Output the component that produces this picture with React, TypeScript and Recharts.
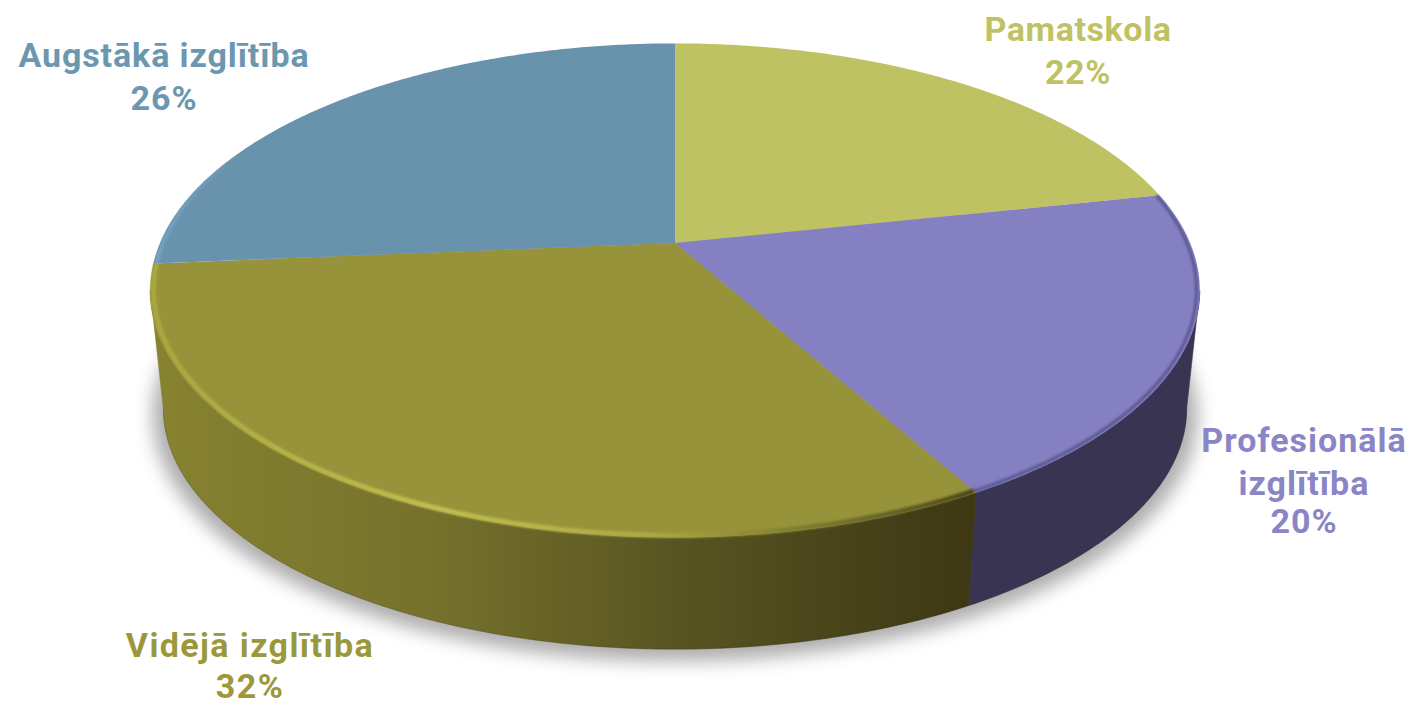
import { PieChart, Pie } from "recharts";

const categories = ["Pamatskola", "Profesionālā\nizglītība", "Vidējā izglītība", "Augstākā izglītība"];
const shares = [21.7, 20.3, 31.8, 26.4];

const topColors = ["#bfc263", "#8480c1", "#97933a", "#6993ad"];
const wallColors = ["none", "#383452", "url(#olive-wall)", "none"];
const rimColors = ["none", "#5a5690", "url(#olive-rim)", "url(#blue-rim)"];
const textColors = ["#bfc263", "#8985c6", "#9b983c", "#6c97b0"];

// centre x, line baselines and tracking of every label, in slice order
const labelSpots = [
  { x: 1078, baselines: [41, 84], spacing: 0.6 },
  { x: 1304, baselines: [452, 495, 533], spacing: 1 },
  { x: 250, baselines: [657, 698], spacing: 1.4 },
  { x: 164, baselines: [67, 110], spacing: 0.9 },
];

const table = categories.map((name, i) => ({ name, value: shares[i] }));
const wholeDisc = [{ name: "shadow", value: 100 }];

// The disc is tilted: far side shrinks, so the apex is not at the ellipse centre.
const TILT = 0.192;
const SQUASH = 0.462;
const WALL_DROP = 119;
const WALL_SCALE = 0.975;
const RAD = Math.PI / 180;

type Pt = [number, number];

function project(p: any, deg: number, r = 1, low = false): Pt {
  const u = Math.cos(deg * RAD) * r;
  const v = Math.sin(deg * RAD) * r;
  const s = low ? WALL_SCALE : 1;
  const w = 1 + TILT * v;
  const x = p.cx + (p.outerRadius * s * u) / w;
  const y = p.cy + (low ? WALL_DROP : 0) - (p.outerRadius * SQUASH * s * v) / w;
  return [x, y];
}

function arc(p: any, from: number, to: number, r = 1, low = false): Pt[] {
  const n = Math.max(2, Math.ceil(Math.abs(to - from) * 2));
  const out: Pt[] = [];
  for (let i = 0; i <= n; i++) out.push(project(p, from + ((to - from) * i) / n, r, low));
  return out;
}

const toPath = (pts: Pt[], close = true) =>
  "M" + pts.map(([x, y]) => `${x.toFixed(2)} ${y.toFixed(2)}`).join("L") + (close ? "Z" : "");

function TopSlice(p: any) {
  const i = categories.indexOf(p.name);
  const edge = arc(p, p.startAngle, p.endAngle);
  return (
    <g>
      <path d={toPath([[p.cx, p.cy], ...edge])} fill={topColors[i]} />
      {rimColors[i] !== "none" && (
        <path
          d={toPath(arc(p, p.startAngle, p.endAngle, 0.994), false)}
          fill="none"
          stroke={rimColors[i]}
          strokeWidth={i === 2 ? 5 : 3}
          filter="url(#rim-blur)"
        />
      )}
    </g>
  );
}

function WallSlice(p: any) {
  const i = categories.indexOf(p.name);
  // only the part facing the viewer, between the two silhouette angles
  const limit = Math.asin(TILT) / RAD;
  const from = Math.min(p.startAngle, -limit);
  const to = Math.max(p.endAngle, -180 + limit);
  if (wallColors[i] === "none" || from <= to) return <g />;
  const upper = arc(p, from, to);
  const lower = arc(p, to, from, 1, true);
  return (
    <g>
      <path d={toPath([...upper, ...lower])} fill={wallColors[i]} stroke={wallColors[i]} strokeWidth={0.6} />
      <path d={toPath(lower, false)} fill="none" stroke="#000" strokeOpacity={0.12} strokeWidth={1.2} />
    </g>
  );
}

function ShadowDisc(p: any) {
  return <path d={toPath(arc(p, 0, 360, 1.02, true))} transform="translate(0 5)" fill="#000" fillOpacity={0.32} filter="url(#shadow-blur)" />;
}

function SliceLabel(p: any) {
  const spot = labelSpots[p.index];
  const lines = [...categories[p.index].split("\n"), `${Math.round(shares[p.index])}%`];
  return (
    <text
      textAnchor="middle"
      fill={textColors[p.index]}
      fontFamily="Roboto, sans-serif"
      fontWeight={700}
      fontSize={34}
      letterSpacing={spot.spacing}
    >
      {lines.map((line, n) => (
        <tspan key={n} x={spot.x} y={spot.baselines[n]}>
          {line}
        </tspan>
      ))}
    </text>
  );
}

export default function App() {
  return (
    <div style={{ position: "absolute", left: 0, top: 0, width: 1414, height: 704, background: "#fff" }}>
      <PieChart width={1414} height={704} margin={{ top: 0, right: 0, bottom: 0, left: 0 }}>
        <defs>
          <linearGradient id="olive-wall" gradientUnits="userSpaceOnUse" x1={150} y1={0} x2={975} y2={0}>
            <stop offset="0" stopColor="#878330" />
            <stop offset="0.35" stopColor="#75712c" />
            <stop offset="0.62" stopColor="#5a5622" />
            <stop offset="0.85" stopColor="#48431a" />
            <stop offset="1" stopColor="#3d3713" />
          </linearGradient>
          <linearGradient id="olive-rim" gradientUnits="userSpaceOnUse" x1={150} y1={0} x2={975} y2={0}>
            <stop offset="0" stopColor="#a9a83f" />
            <stop offset="0.35" stopColor="#c2be50" />
            <stop offset="0.6" stopColor="#aeaa44" />
            <stop offset="0.8" stopColor="#7d7a2e" />
            <stop offset="1" stopColor="#4d481c" />
          </linearGradient>
          <linearGradient id="blue-rim" gradientUnits="userSpaceOnUse" x1={150} y1={0} x2={240} y2={0}>
            <stop offset="0" stopColor="#78a8c8" />
            <stop offset="1" stopColor="#78a8c8" stopOpacity={0} />
          </linearGradient>
          <filter id="rim-blur" x="-5%" y="-5%" width="110%" height="110%">
            <feGaussianBlur stdDeviation={1.2} />
          </filter>
          <filter id="shadow-blur" x="-10%" y="-10%" width="120%" height="120%">
            <feGaussianBlur stdDeviation={9} />
          </filter>
        </defs>
        <Pie data={wholeDisc} dataKey="value" cx={675} cy={243} outerRadius={515} startAngle={90} endAngle={-270} stroke="none" shape={ShadowDisc} isAnimationActive={false} />
        <Pie data={table} dataKey="value" cx={675} cy={243} outerRadius={515} startAngle={90} endAngle={-270} stroke="none" shape={WallSlice} isAnimationActive={false} />
        <Pie data={table} dataKey="value" cx={675} cy={243} outerRadius={515} startAngle={90} endAngle={-270} stroke="none" shape={TopSlice} label={SliceLabel} labelLine={false} isAnimationActive={false} />
      </PieChart>
    </div>
  );
}
